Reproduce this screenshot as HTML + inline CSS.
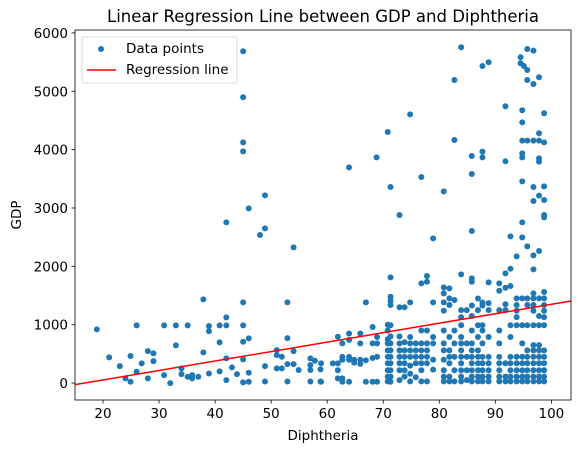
<!DOCTYPE html>
<html><head><meta charset="utf-8"><style>
html,body{margin:0;padding:0;background:#fff;}
svg{display:block;font-family:"DejaVu Sans","Liberation Sans",sans-serif;}
</style></head><body>
<svg id="chart" width="580" height="453" xmlns="http://www.w3.org/2000/svg">
<rect width="580" height="453" fill="#fff"/>
<text x="323" y="22" text-anchor="middle" font-size="16.5">Linear Regression Line between GDP and Diphtheria</text>
<g id="points"></g>
<g id="reg"></g>
<g id="xticks"></g>
<g id="yticks"></g>
<rect x="75" y="30" width="496" height="370" fill="none" stroke="#000" stroke-width="0.8"/>
<text x="323" y="440" text-anchor="middle" font-size="13.5">Diphtheria</text>
<text x="21" y="215" text-anchor="middle" font-size="13.5" transform="rotate(-90 21 215)">GDP</text>
<g>
<rect x="82" y="37" width="155" height="46" rx="2" fill="#fff" fill-opacity="0.8" stroke="#ccc" stroke-width="0.8"/>
<circle cx="101" cy="49" r="3" fill="#1f77b4"/>
<text x="126" y="53" font-size="13.5">Data points</text>
<line x1="87" y1="70" x2="116" y2="70" stroke="red" stroke-width="1.5"/>
<text x="126" y="74" font-size="13.5">Regression line</text>
</g>
</svg>
<script>
const xTickValues = [20,30,40,50,60,70,80,90,100];
const yTickValues = [0,1000,2000,3000,4000,5000,6000];
const regIntercept = -270;
const regSlope = 16.2;
const scatterX = [18.9,21.1,23.0,24.9,26.0,26.0,24.0,24.9,26.9,28.0,29.0,29.0,28.0,30.9,30.9,32.0,33.0,33.0,35.1,34.0,34.0,35.1,35.9,35.9,37.0,37.9,37.9,38.9,38.9,38.9,40.8,42.0,42.0,40.8,42.0,42.0,42.0,40.8,43.0,43.9,45,45,45,45,45,45,45,46,45,45,46,46,46,48.9,48.9,48.0,54.0,52.9,52.9,51.0,51.0,51.9,51.0,51.9,52.9,54.0,54.0,54.9,48.9,48.9,52.9,57.0,57.0,57.0,57.8,58.8,57.0,58.8,
83.9,87.7,88.8,82.7,95.7,96.8,94.5,94.5,95.1,95.7,95.7,96.8,97.8,91.8,94.8,98.7,74.8,94.8,70.8,82.7,94.8,95.7,96.8,97.8,97.8,98.7,68.8,63.9,85.8,87.7,87.7,85.8,91.8,94.8,94.8,97.8,97.8,76.8,71.3,80.8,94.8,96.8,98.7,97.8,98.7,96.8,98.7,98.7,72.9,94.8,78.9,85.8,92.7,94.8,95.7,93.8,96.8,97.8,92.7,91.8,96.8,71.3,83.9,77.8];
const scatterGdp = [920,440,291,463,988,194,80,23,337,548,508,377,80,988,137,0,988,645,988,251,154,108,137,80,108,1434,525,977,891,165,988,988,1125,697,2754,423,51,200,268,154,5685,4897,4125,3971,1383,988,708,766,406,11,23,177,2994,3217,2651,2537,2326,1383,771,565,480,451,251,251,325,325,548,223,291,28,28,423,308,223,383,234,28,28,
5754,5434,5497,5194,5725,5697,5582,5480,5434,5365,5194,5125,5240,4743,4674,4623,4605,4468,4302,4165,4154,4154,4154,4280,4154,4125,3868,3697,3891,3965,3868,3583,3800,3937,3868,3851,3794,3531,3360,3285,3457,3360,3371,3211,3137,3120,2880,2840,2880,2754,2480,2605,2514,2497,2343,2171,2188,2263,1960,1880,1948,1811,1863,1834];
const columnX = [58.9,61.0,61.9,62.7,63.9,64.8,65.9,66.9,68.1,68.9,70.8,71.3,72.9,73.8,74.8,75.8,76.8,77.8,78.9,80.8,81.8,82.7,83.9,84.9,85.8,86.9,87.7,88.8,90.7,91.8,92.7,93.8,94.8,95.7,96.8,97.8,98.7];
const columnGdp = [[337,23],[337],[794,337,220,80],[680,450,400,80,23],[850,740,450,400,23],[400,350],[850,680,400,330],[1383,390,23],[960,680,430,23],[790,680,450,23],
[1000,900,750,680,560,450,340,220,110,30],[1480,1411,1337,990,800,680,560,450,340,220,110,23],[1300,800,680,560,450,340,220,50],[1300,700,560,450,340,220,110],[1383,790,680,560,450,300,160,30],[680,560,450,340,100],[1708,900,680,560,450,340,220,30],[1737,900,680,560,450,340,30],[1383,790,680,400,230],
[1640,1537,1383,1240,900,680,560,400,220,110,30],[1623,1451,1337,790,560,450,340,110,30],[1423,900,680,450,220,30],[1250,1130,990,790,680,560,450,340,220,110,30],[1250,680,450,220,50],[1794,1737,1330,1150,900,680,560,450,340,220,110,30],[1450,1250,990,790,560,450,340,220,110,30],[1380,1330,990,900,680,450,340,220,110,30],[1725,1370,1250,790,450,340,220,110,30],[1708,1583,1250,900,680,450,340,220,110,30],[1634,1350,1250,340,110,30],[1663,990,790,450,340,220,110,30],[1451,1337,1240,1130,990,450,340,220,110,30],[1451,990,680,450,340,220,110,30],[1451,1337,990,560,450,340,220,110,30],[1537,1451,1337,1240,990,650,560,450,340,220,110,30],[1451,1150,990,650,560,450,340,220,110,30],[1560,1451,1337,1240,1130,990,560,450,340,220,110,30]];

const NS = "http://www.w3.org/2000/svg";
const X0 = 15.0, X1 = 103.5, Y0 = -290, Y1 = 6050;
const L = 75, R = 571, T = 30, B = 400;
function sx(v){ return L + (v - X0) / (X1 - X0) * (R - L); }
function sy(v){ return B - (v - Y0) / (Y1 - Y0) * (B - T); }
function mk(tag, attrs){ const e = document.createElementNS(NS, tag); for (const k in attrs) e.setAttribute(k, attrs[k]); return e; }

const pts = document.getElementById('points');
function dot(x, y){
  const c = mk('circle', {cx: sx(x), cy: sy(y), r: 3, fill: '#1f77b4'});
  
  
  pts.appendChild(c);
}
for (let i = 0; i < scatterX.length; i++) dot(scatterX[i], scatterGdp[i]);
for (let i = 0; i < columnX.length; i++) for (const g of columnGdp[i]) dot(columnX[i], g);

const reg = document.getElementById('reg');
const ln = mk('line', {x1: sx(X0), y1: sy(regIntercept + regSlope * X0), x2: sx(X1), y2: sy(regIntercept + regSlope * X1), stroke: 'red', 'stroke-width': 1.5});


reg.appendChild(ln);

const xg = document.getElementById('xticks');
for (const v of xTickValues){
  const t = mk('line', {x1: sx(v), x2: sx(v), y1: B, y2: B + 3.5, stroke: '#000', 'stroke-width': 0.8});
  
  
  xg.appendChild(t);
  const lb = mk('text', {x: sx(v), y: B + 18, 'text-anchor': 'middle', 'font-size': 13.5});
  lb.textContent = v;
  
  
  xg.appendChild(lb);
}
const yg = document.getElementById('yticks');
for (const v of yTickValues){
  const t = mk('line', {x1: L - 3.5, x2: L, y1: sy(v), y2: sy(v), stroke: '#000', 'stroke-width': 0.8});
  
  
  yg.appendChild(t);
  const lb = mk('text', {x: L - 7, y: sy(v) + 5, 'text-anchor': 'end', 'font-size': 13.5});
  lb.textContent = v;
  
  
  yg.appendChild(lb);
}
</script>
</body></html>
